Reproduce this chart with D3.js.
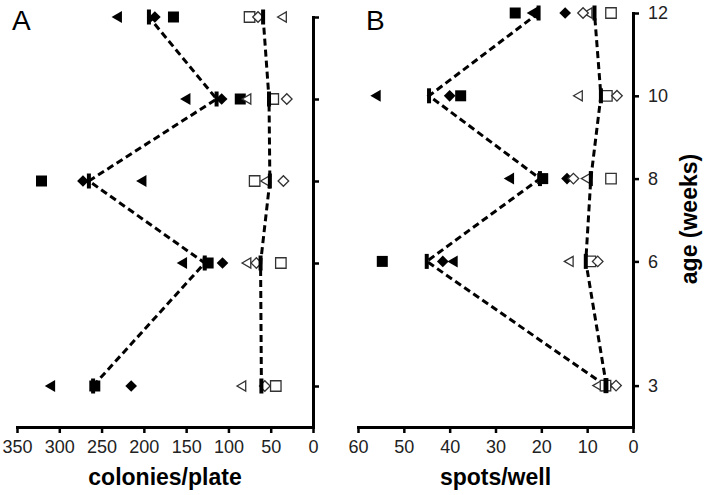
<!DOCTYPE html>
<html>
<head>
<meta charset="utf-8">
<script src="https://cdn.jsdelivr.net/npm/d3@7"></script>
<style>
  body { margin: 0; background: #fff; }
  svg text { font-family: "Liberation Sans", Arial, sans-serif; }
</style>
</head>
<body>
<svg id="chart" width="709" height="495"></svg>
<script>
// age in weeks
const weeks = [3, 6, 8, 10, 12];

// panel A: colonies/plate
const aFilledTri = [309, 153, 201, 149, 230];
const aFilledSq = [258, 124, 321, 86, 165];
const aFilledDia = [215, 107, 272, 108, 187];
const aOpenTri = [83, 77, 55, 77, 35];
const aOpenSq = [44, 38, 69, 47, 75];
const aOpenDia = [57, 67, 35, 31, 65];
const aFilledMean = [260, 128, 265, 114, 194];
const aOpenMean = [61, 62, 51, 52, 59];
const aTicks = [350, 300, 250, 200, 150, 100, 50, 0];

// panel B: spots/well
const bFilledTri = [6.5, 39, 26.7, 55.8, 21.7];
const bFilledSq = [6, 54.7, 19.7, 37.6, 25.7];
const bFilledDia = [5.5, 41.5, 14.4, 40, 14.8];
const bOpenTri = [7.5, 13.7, 10, 11.7, 9.6];
const bOpenSq = [6, 9.3, 4.8, 5.7, 4.8];
const bOpenDia = [3.7, 7.7, 13, 3.5, 10.9];
const bFilledMean = [6, 45, 20.3, 44.5, 20.6];
const bOpenMean = [5.8, 10.3, 9.2, 7, 8.4];
const bTicks = [60, 50, 40, 30, 20, 10, 0];

const svg = d3.select('#chart');

const tri = d3.symbol().type(d3.symbolTriangle);
const sq = d3.symbol().type(d3.symbolSquare);

function drawPanel(p) {
  const x = d3.scaleLinear().domain(p.xDomain).range(p.xRange);
  const y = d3.scaleLinear().domain([2, 12]).range(p.yRange);
  const g = svg.append('g');

  // dashed mean lines
  const line = d3.line().x(d => x(d[0])).y(d => y(d[1]));
  [p.filledMean, p.openMean].forEach(m => {
    g.append('path')
      .datum(m.map((v, i) => [v, weeks[i]]))
      .attr('d', line)
      .attr('fill', 'none')
      .attr('stroke', '#000')
      .attr('stroke-width', 3)
      .attr('stroke-dasharray', '7,4');
  });

  // markers: filled first, open (white) on top
  const series = [
    { vals: p.filledTri, shape: 'tri', open: false },
    { vals: p.filledSq, shape: 'sq', open: false },
    { vals: p.filledDia, shape: 'dia', open: false },
    { vals: p.openTri, shape: 'tri', open: true },
    { vals: p.openSq, shape: 'sq', open: true },
    { vals: p.openDia, shape: 'dia', open: true },
  ];
  series.forEach(s => {
    g.selectAll(null)
      .data(s.vals)
      .enter()
      .append('path')
      .attr('d', () => {
        if (s.shape === 'tri') return tri.size(s.open ? 44 : 62)();
        if (s.shape === 'sq') return sq.size(s.open ? 110 : 121)();
        return sq.size(s.open ? 56 : 68)();
      })
      .attr('transform', (d, i) => {
        const rot = s.shape === 'tri' ? -90 : (s.shape === 'dia' ? 45 : 0);
        return `translate(${x(d)},${y(weeks[i])}) rotate(${rot})`;
      })
      .attr('fill', s.open ? '#fff' : '#000')
      .attr('stroke', s.open ? '#333' : 'none')
      .attr('stroke-width', 1.3);
  });

  // mean bars
  [p.filledMean, p.openMean].forEach(m => {
    g.selectAll(null)
      .data(m)
      .enter()
      .append('rect')
      .attr('x', d => x(d) - 2)
      .attr('y', (d, i) => y(weeks[i]) - 7.5)
      .attr('width', 4)
      .attr('height', 15)
      .attr('fill', '#000');
  });

  // axes
  const bottom = p.yRange[0];
  const right = p.xRange[1];
  const xAxis = g.append('g')
    .attr('transform', `translate(0,${bottom})`)
    .call(d3.axisBottom(x).tickValues(p.xTicks).tickSize(6).tickSizeOuter(0).tickPadding(7));
  const yAxis = g.append('g')
    .attr('transform', `translate(${right},0)`)
    .call(d3.axisRight(y).tickValues(weeks).tickSize(6).tickSizeOuter(0).tickPadding(9)
      .tickFormat(p.yLabels ? d3.format('d') : () => ''));
  [xAxis, yAxis].forEach(a => {
    a.select('.domain').attr('stroke-width', 3).attr('stroke-linecap', 'square');
    a.selectAll('.tick line').attr('stroke-width', 2.5);
    a.selectAll('.tick text').attr('font-size', 18).attr('fill', '#222')
      .style('font-family', '"Liberation Sans", Arial, sans-serif');
  });

  g.append('text')
    .attr('x', (p.xRange[0] + p.xRange[1]) / 2)
    .attr('y', 485)
    .attr('text-anchor', 'middle')
    .attr('font-size', 23)
    .attr('font-weight', 'bold')
    .text(p.title);

  g.append('text')
    .attr('x', p.letterX)
    .attr('y', 30)
    .attr('font-size', 28)
    .text(p.letter);
}

drawPanel({
  xDomain: [350, 0], xRange: [17, 313], yRange: [427, 17], xTicks: aTicks,
  filledTri: aFilledTri, filledSq: aFilledSq, filledDia: aFilledDia,
  openTri: aOpenTri, openSq: aOpenSq, openDia: aOpenDia,
  filledMean: aFilledMean, openMean: aOpenMean,
  yLabels: false, title: 'colonies/plate', letter: 'A', letterX: 12,
});

drawPanel({
  xDomain: [60, 0], xRange: [358, 633], yRange: [427, 13], xTicks: bTicks,
  filledTri: bFilledTri, filledSq: bFilledSq, filledDia: bFilledDia,
  openTri: bOpenTri, openSq: bOpenSq, openDia: bOpenDia,
  filledMean: bFilledMean, openMean: bOpenMean,
  yLabels: true, title: 'spots/well', letter: 'B', letterX: 366,
});

svg.append('text')
  .attr('transform', 'translate(697,219) rotate(-90)')
  .attr('text-anchor', 'middle')
  .attr('font-size', 23)
  .attr('font-weight', 'bold')
  .text('age (weeks)');
</script>
</body>
</html>
